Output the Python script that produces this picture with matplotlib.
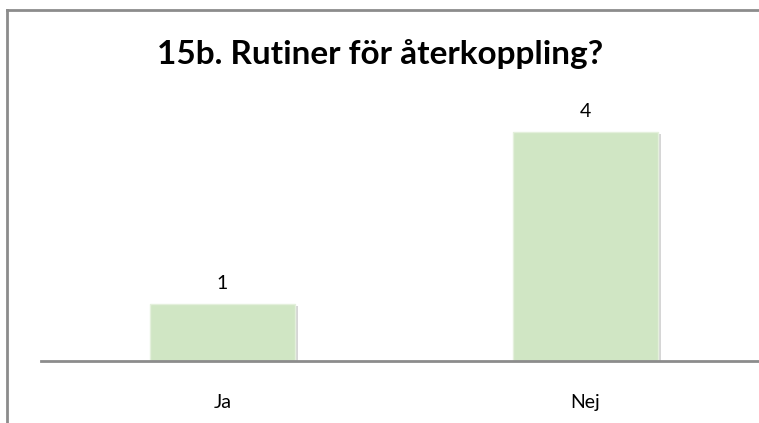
import matplotlib.pyplot as plt
import matplotlib.patheffects as pe
from matplotlib.lines import Line2D

categories = ["Ja", "Nej"]
values = [1, 4]

plt.rcParams['font.family'] = ['Lato', 'DejaVu Sans']

W, H = 759, 423
fig = plt.figure(figsize=(W / 100, H / 100), dpi=100)

# chart area border (only left and top edges visible in the reference)
bx, by = 6.5 / W, 1 - 10.5 / H
fig.add_artist(Line2D([bx, bx], [0, by], transform=fig.transFigure, color='#8c8c8c', linewidth=2))
fig.add_artist(Line2D([bx, 1], [by, by], transform=fig.transFigure, color='#8c8c8c', linewidth=2))

ax = fig.add_axes([41 / W, (H - 361) / H, 726 / W, (361 - 103) / H])
x = range(len(categories))
bars = ax.bar(x, values, width=0.4, color='#d0e6c4', edgecolor='#e4f0dc', linewidth=1,
              path_effects=[pe.SimplePatchShadow(offset=(2, -2), shadow_rgbFace='#bbbbbb', alpha=0.6),
                            pe.Normal()])
ax.set_xlim(-0.5, 1.5)
ax.set_ylim(0, 4.5)

for i, v in enumerate(values):
    ax.text(i, v + 0.2, str(v), ha='center', va='bottom', fontsize=14)

ax.set_xticks(list(x))
ax.set_xticklabels(categories, fontsize=14)
ax.tick_params(axis='x', length=0, pad=24)
ax.set_yticks([])
for s in ['top', 'right', 'left']:
    ax.spines[s].set_visible(False)
ax.spines['bottom'].set_color('#8c8c8c')
ax.spines['bottom'].set_linewidth(2)

fig.text(380 / W, 1 - 54 / H, "15b. Rutiner för återkoppling?", ha='center', va='center',
         fontsize=24, fontweight='bold')

fig.savefig('out.png', dpi=100)
